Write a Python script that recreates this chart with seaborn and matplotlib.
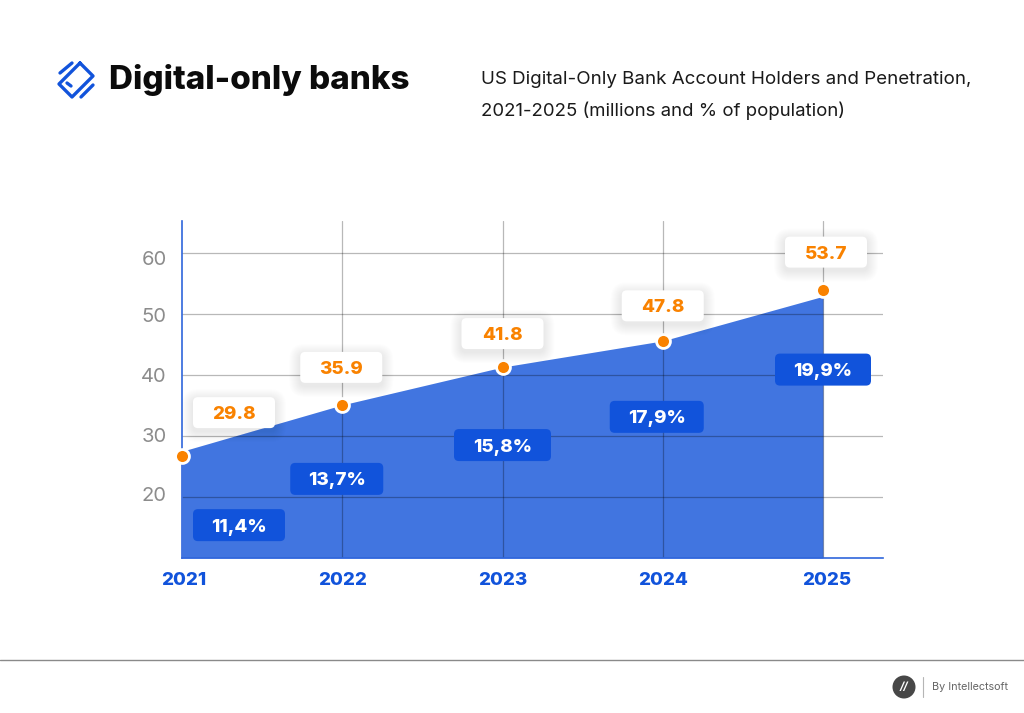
import matplotlib
matplotlib.use("Agg")
import matplotlib.pyplot as plt
from matplotlib.patches import FancyBboxPatch, Circle
from matplotlib.transforms import ScaledTranslation
import pandas as pd
import seaborn as sns

years = [2021, 2022, 2023, 2024, 2025]
holders_labels = ["29.8", "35.9", "41.8", "47.8", "53.7"]
penetration_labels = ["11,4%", "13,7%", "15,8%", "17,9%", "19,9%"]
marker_levels = [26.7, 35.1, 41.3, 45.6, 54.0]
area_levels = [27.5, 35.1, 41.3, 45.6, 52.9]
y_ticks = [20, 30, 40, 50, 60]

BLUE = "#1153DB"
AREA = "#4175E0"
ORANGE = "#F98200"
GREY = "#8C8C8C"

sns.set_theme(style="white")
plt.rcParams["font.family"] = ["Inter", "DejaVu Sans"]

W, H = 1024, 713
fig = plt.figure(figsize=(W / 100, H / 100), dpi=100, facecolor="white")
L, R, T, B = 182, 883, 221, 558
ax = fig.add_axes([L / W, 1 - B / H, (R - L) / W, (B - T) / H])
ax.set_xlim(2021, 2021 + (R - L) / 160.25)
ax.set_ylim(10, 10 + (B - T) / 6.1)

df = pd.DataFrame({"year": years, "marker": marker_levels, "area": area_levels})
ax.fill_between(df["year"], 10, df["area"], color=AREA, lw=0, zorder=1)
for y in y_ticks:
    ax.axhline(y, color="#000000", alpha=0.28, lw=0.9, zorder=2)
for x in years[1:]:
    ax.axvline(x, color="#000000", alpha=0.28, lw=0.9, zorder=2)
sns.scatterplot(data=df, x="year", y="marker", ax=ax, s=100, color=ORANGE,
                edgecolor="white", linewidth=2.0, zorder=5, clip_on=False)

for s in ["top", "right"]:
    ax.spines[s].set_visible(False)
for s in ["left", "bottom"]:
    ax.spines[s].set_color("#2F66DC")
    ax.spines[s].set_linewidth(1.2)
ax.set_xlabel("")
ax.set_ylabel("")
ax.set_xticks(years)
ax.set_xticklabels(years, fontsize=13.5, fontweight=800, color=BLUE)
ax.set_yticks(y_ticks)
ax.set_yticklabels(y_ticks, fontsize=14.5, color=GREY)
ax.tick_params(axis="x", length=0, pad=10)
ax.tick_params(axis="y", length=0, pad=11)


def nudge(label, dx_px, dy_px):
    label.set_transform(label.get_transform() +
                        ScaledTranslation(dx_px / 100, dy_px / 100, fig.dpi_scale_trans))


for lab, dy in zip(ax.get_yticklabels(), [3, 1, 0, -1, -5]):
    nudge(lab, 0, dy)
for lab, dx in zip(ax.get_xticklabels(), [2, 0, 0, 0, 4]):
    nudge(lab, dx, 0)

# Overlay in pixel coordinates for callouts and page furniture
ov = fig.add_axes([0, 0, 1, 1], zorder=10)
ov.set_xlim(0, W)
ov.set_ylim(H, 0)
ov.axis("off")
ov.patch.set_alpha(0)


def anchor(year, level):
    px, py = ax.transData.transform((year, level))
    return px, H - py


def box(cx, cy, w, h, face, text, color, shadow=False):
    if shadow:
        for grow in range(11, 0, -1):
            ov.add_patch(FancyBboxPatch((cx - w / 2 - grow, cy - h / 2 - grow + 3), w + 2 * grow, h + 2 * grow,
                                        boxstyle=f"round,pad=0,rounding_size={5 + grow}", fc="black", ec="none",
                                        alpha=0.008, zorder=3))
    ov.add_patch(FancyBboxPatch((cx - w / 2, cy - h / 2), w, h, boxstyle="round,pad=0,rounding_size=5",
                                fc=face, ec="none", zorder=4))
    ov.text(cx, cy, text, ha="center", va="center_baseline", color=color, fontsize=13.5,
            fontweight=800, zorder=5)


orange_offsets = [(52, -43.5), (-1, -37.5), (0, -33.5), (0, -35), (3, -37.5)]
blue_offsets = [(57, 69), (-5.5, 74), (0, 78), (-6, 76), (0, 80)]
blue_widths = [92, 93, 97, 94, 96]
for yr, m, txt, pct, oo, bo, bw in zip(years, marker_levels, holders_labels, penetration_labels,
                                       orange_offsets, blue_offsets, blue_widths):
    px, py = anchor(yr, m)
    box(px + oo[0], py + oo[1], 82, 31, "white", txt, ORANGE, shadow=True)
    box(px + bo[0], py + bo[1], bw, 32, BLUE, pct, "white")

# Header
ov.text(109, 80, "Digital-only banks", fontsize=23.9, fontweight=800, color="#0B0B0B",
        ha="left", va="center")
ov.text(481, 79, "US Digital-Only Bank Account Holders and Penetration,", fontsize=13.5,
        color="#1A1A1A", ha="left", va="center")
ov.text(481, 111, "2021-2025 (millions and % of population)", fontsize=13.4,
        color="#1A1A1A", ha="left", va="center")
for xs, ys in [([80, 93, 72, 59, 80], [63, 76, 97, 84, 63]),
               ([60, 72], [73, 63]), ([81, 93], [97, 85]), ([67, 71], [83, 86])]:
    ov.plot(xs, ys, color=BLUE, lw=2.4, solid_capstyle="round", solid_joinstyle="round")

# Footer
ov.plot([0, W], [659.5, 659.5], color="#8A8A8A", lw=1.0)
ov.plot([923, 923], [677, 697], color="#B5B5B5", lw=0.8)
ov.add_patch(Circle((904, 687), 11.5, fc="#474747", ec="none"))
ov.text(904, 687, "//", color="white", fontsize=8, fontweight="bold", fontstyle="italic",
        ha="center", va="center")
ov.text(932, 687, "By Intellectsoft", color="#666666", fontsize=7.8, ha="left", va="center")

fig.savefig("out.png", dpi=100, facecolor="white")
